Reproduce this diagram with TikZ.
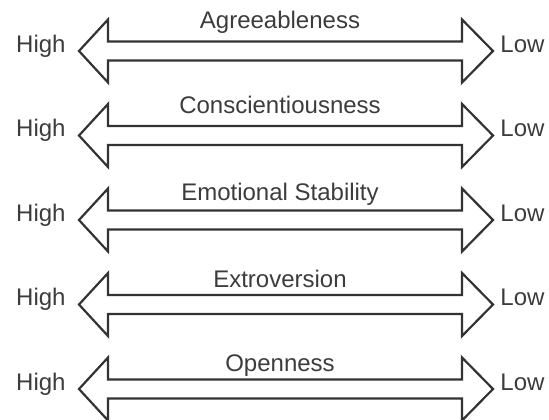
\documentclass[tikz,border=0pt]{standalone}
\usepackage{fontspec}
\setmainfont{Liberation Sans}
\definecolor{inkgray}{HTML}{3C3C3C}
\definecolor{linegray}{HTML}{333333}

\begin{document}
\begin{tikzpicture}[x=0.5pt,y=-0.5pt]
    \tikzset{trait/.style={inner sep=0pt,anchor=base,text=inkgray,font=\fontsize{12}{14}\selectfont},
        bigarrow/.style={draw=linegray,line width=1.1pt,fill=white,line join=miter}}
    \useasboundingbox (0,0) rectangle (549,419);
    %one double arrow per trait: title, centre line, title baseline
    \foreach \name/\c/\b [count=\i] in {Agreeableness/51/28, Conscientiousness/135.5/113, Emotional Stability/220/200, Extroversion/304.5/287, Openness/389/371}{
        \draw[bigarrow] (79,\c) -- (108,\c-31.5) -- (108,\c-9.5) -- (462,\c-9.5) -- (462,\c-31.5)
            -- (493,\c) -- (462,\c+31.5) -- (462,\c+9.5) -- (108,\c+9.5) -- (108,\c+31.5) -- cycle;
        \node[trait] (title\i) at (280,\b) {\name};
        \node[trait,anchor=base east] (high\i) at (66,\c+1) {High};
        \node[trait,anchor=base west] (low\i) at (500,\c+1) {Low};
    }
\end{tikzpicture}
\end{document}
